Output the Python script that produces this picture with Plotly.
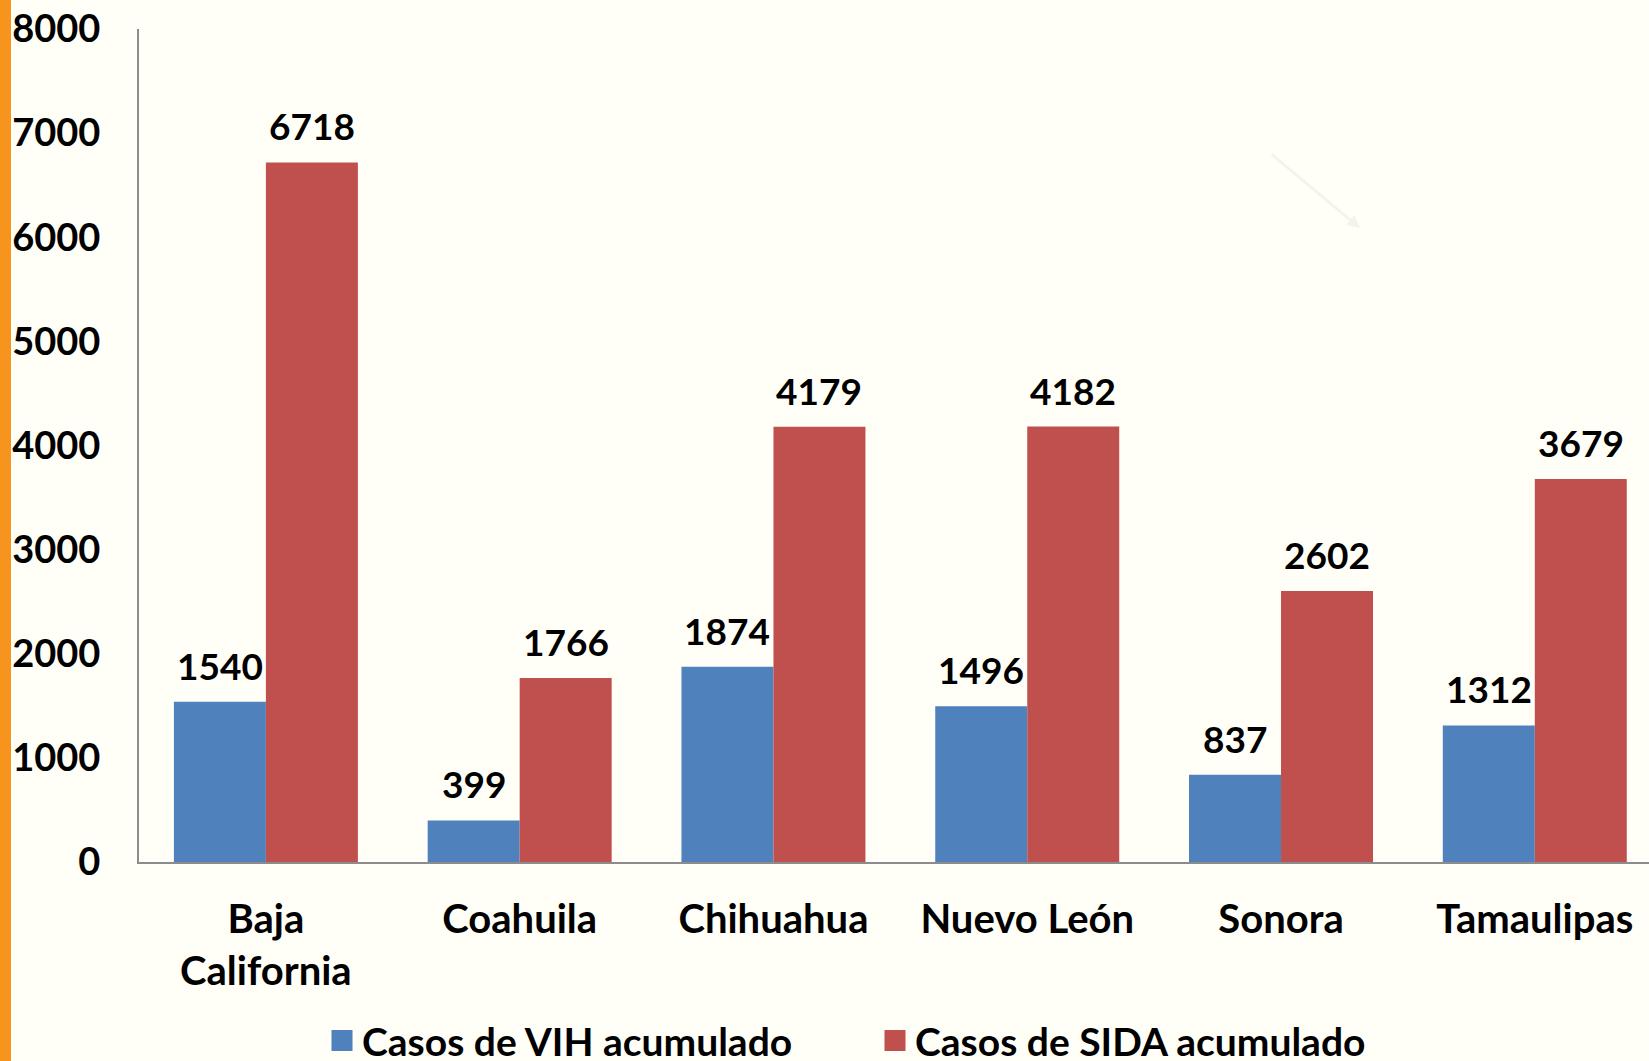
import plotly.graph_objects as go

categories = ["Baja<br>California", "Coahuila", "Chihuahua", "Nuevo León", "Sonora", "Tamaulipas"]
vih = [1540, 399, 1874, 1496, 837, 1312]
sida = [6718, 1766, 4179, 4182, 2602, 3679]
series_names = ["Casos de VIH acumulado", "Casos de SIDA acumulado"]
colors = ["#4F81BD", "#C0504D"]
y_ticks = [0, 1000, 2000, 3000, 4000, 5000, 6000, 7000, 8000]

W, H = 1649, 1061
ML, MR, MT, MB = 139, 0, 29, 199
BG = "#FFFFF7"
LABEL_FONT = dict(family="Lato", size=37, color="black", weight="bold")
YTICK_FONT = dict(family="Lato", size=38, color="black", weight="bold")
XTICK_FONT = dict(family="Lato", size=40, color="black", weight="bold")
LEGEND_FONT = dict(family="Lato", size=39, color="black", weight="bold")

fig = go.Figure()
for vals, name, col in zip([vih, sida], series_names, colors):
    fig.add_trace(go.Bar(x=categories, y=vals, name=name, marker=dict(color=col, line=dict(width=0)),
                         showlegend=False))
    fig.add_trace(go.Scatter(x=[None], y=[None], mode="markers", name=name,
                             marker=dict(symbol="square", size=16, color=col, line=dict(width=5, color=col))))

annotations = []
for vals, shift in zip([vih, sida], [-46, 46]):
    for c, v in zip(categories, vals):
        annotations.append(dict(x=c, y=v, xref="x", yref="y", text=str(v), showarrow=False,
                                yanchor="bottom", xanchor="center", xshift=shift, yshift=12,
                                font=LABEL_FONT))
# faint decorative arrow
annotations.append(dict(x=(1360 - ML) / (W - ML - MR), y=(H - MB - 228) / (H - MT - MB),
                        ax=-90, ay=-75, xref="paper", yref="paper",
                        text="", showarrow=True, arrowhead=2, arrowwidth=2.5, arrowcolor="#F3F3EA"))

fig.update_layout(
    width=W, height=H,
    margin=dict(l=ML, r=MR, t=MT, b=MB, autoexpand=False),
    paper_bgcolor=BG, plot_bgcolor=BG,
    barmode="group", bargap=0.275, bargroupgap=0,
    font=LABEL_FONT,
    showlegend=True,
    legend=dict(orientation="h", x=(322 - ML) / (W - ML), xanchor="left",
                y=-0.176, yanchor="top", font=LEGEND_FONT, bgcolor="rgba(0,0,0,0)",
                itemsizing="trace", entrywidth=508, traceorder="normal"),
    annotations=annotations,
    shapes=[dict(type="rect", xref="paper", yref="paper",
                 x0=-ML / (W - ML), x1=-(ML - 11) / (W - ML), y0=-MB / (H - MT - MB), y1=1 + MT / (H - MT - MB),
                 fillcolor="#F7941D", line=dict(width=0), layer="above")],
)
fig.update_xaxes(range=[-0.5, 5.45], showline=True, linecolor="#8C8C8C", linewidth=2,
                 showgrid=False, ticks="", tickfont=XTICK_FONT, ticklabelstandoff=21, fixedrange=True)
fig.update_yaxes(range=[0, 8000], tickvals=y_ticks, showline=True, linecolor="#8C8C8C", linewidth=2,
                 showgrid=False, zeroline=False, ticks="", tickfont=YTICK_FONT, ticklabelstandoff=29)

fig.write_html("out.html", config={"displayModeBar": False},
               post_script="document.body.style.margin='0';document.body.style.background='#FFFFF7';"
                           "document.body.style.overflow='hidden';")
